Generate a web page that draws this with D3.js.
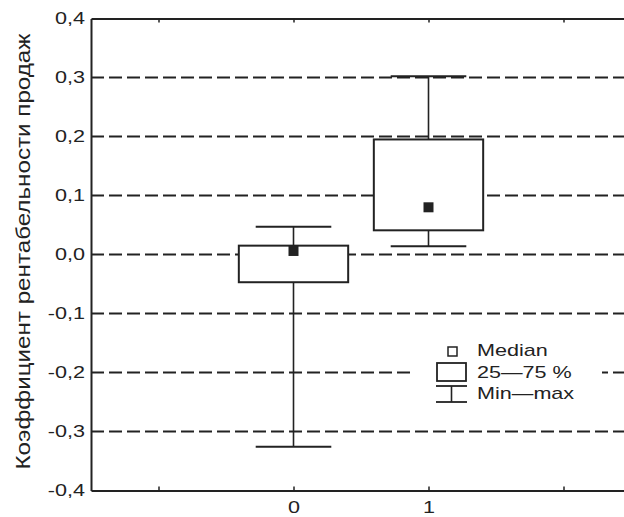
<!DOCTYPE html>
<html>
<head>
<meta charset="utf-8">
<script src="https://cdn.jsdelivr.net/npm/d3@7"></script>
<style>
  body { margin: 0; background: #fff; }
  text { font-family: "Liberation Sans", Arial, sans-serif; fill: #222; }
</style>
</head>
<body>
<svg id="chart" width="624" height="517"></svg>
<script>
// box plot data
const categories = [0, 1];
const medians = [0.006, 0.080];
const q1 = [-0.047, 0.041];
const q3 = [0.015, 0.195];
const mins = [-0.326, 0.014];
const maxs = [0.047, 0.302];

const yTicks = [-0.4, -0.3, -0.2, -0.1, 0, 0.1, 0.2, 0.3, 0.4];
const gridLines = [-0.3, -0.2, -0.1, 0, 0.1, 0.2, 0.3];
const xTicks = [-1, 0, 1, 2];
const xLabels = ["0", "1"];

const legendItems = ["Median", "25\u201475 %", "Min\u2014max"];
const yTitle = "Коэффициент рентабельности продаж";

const ink = "#222";
const svg = d3.select("#chart");

let x = d3.scaleLinear().domain([-1.5, 2.5]).range([91, 631]);
let y = d3.scaleLinear().domain([-0.4, 0.4]).range([490.5, 18.5]);

const fmt = v => d3.format(".1f")(v).replace("\u2212", "-").replace(".", ",");

// the original lettering is wider than it is tall, so stretch it sideways
function widen(sel, k) {
    sel.each(function() {
        let w = this.getComputedTextLength();
        if (w > 0) d3.select(this).attr("textLength", w * k).attr("lengthAdjust", "spacingAndGlyphs");
    });
}

// dashed grid
svg.append("g").selectAll("line").data(gridLines).join("line")
    .attr("x1", x(-1.5)).attr("x2", x(2.5))
    .attr("y1", d => y(d)).attr("y2", d => y(d))
    .attr("stroke", ink).attr("stroke-width", 2)
    .attr("stroke-dasharray", "13,5");

// legend background hides the grid under it
svg.append("rect")
    .attr("x", 414).attr("y", 336).attr("width", 188).attr("height", 70)
    .attr("fill", "#fff");

let boxW = 0.81, capW = 0.56;
let boxes = svg.append("g").selectAll("g").data(categories).join("g");

// whiskers
boxes.append("line")
    .attr("x1", d => x(d)).attr("x2", d => x(d))
    .attr("y1", (d, i) => y(mins[i])).attr("y2", (d, i) => y(maxs[i]))
    .attr("stroke", ink).attr("stroke-width", 1.6);
boxes.append("line")
    .attr("x1", d => x(d - capW / 2)).attr("x2", d => x(d + capW / 2))
    .attr("y1", (d, i) => y(maxs[i])).attr("y2", (d, i) => y(maxs[i]))
    .attr("stroke", ink).attr("stroke-width", 2);
boxes.append("line")
    .attr("x1", d => x(d - capW / 2)).attr("x2", d => x(d + capW / 2))
    .attr("y1", (d, i) => y(mins[i])).attr("y2", (d, i) => y(mins[i]))
    .attr("stroke", ink).attr("stroke-width", 2);

// 25-75 box
boxes.append("rect")
    .attr("x", d => x(d - boxW / 2))
    .attr("width", x(boxW) - x(0))
    .attr("y", (d, i) => y(q3[i]))
    .attr("height", (d, i) => y(q1[i]) - y(q3[i]))
    .attr("fill", "#fff").attr("stroke", ink).attr("stroke-width", 2);

// median marker
boxes.append("rect")
    .attr("x", d => x(d) - 5).attr("y", (d, i) => y(medians[i]) - 5)
    .attr("width", 10).attr("height", 10)
    .attr("fill", ink);

// y axis
let yAxis = svg.append("g")
    .attr("transform", "translate(" + x(-1.5) + ",0)")
    .call(d3.axisLeft(y).tickValues(yTicks).tickFormat(fmt).tickSize(0).tickPadding(6));
yAxis.select(".domain").attr("stroke", ink).attr("stroke-width", 2);
yAxis.selectAll("text").style("font-size", "17px").attr("fill", ink).call(widen, 1.27);

// bottom and top frame lines with inward ticks
let xAxis = svg.append("g")
    .attr("transform", "translate(0," + y(-0.4) + ")")
    .call(d3.axisBottom(x).tickValues(xTicks).tickSizeInner(-4).tickSizeOuter(0).tickPadding(10)
        .tickFormat(d => (d === 0 || d === 1) ? xLabels[d] : ""));
xAxis.select(".domain").attr("stroke", ink).attr("stroke-width", 2);
xAxis.selectAll(".tick line").attr("stroke", ink).attr("stroke-width", 1.5);
xAxis.selectAll("text").style("font-size", "17px").attr("fill", ink).call(widen, 1.27);

let xTop = svg.append("g")
    .attr("transform", "translate(0," + y(0.4) + ")")
    .call(d3.axisTop(x).tickValues(xTicks).tickSizeInner(-4).tickSizeOuter(0).tickFormat(""));
xTop.select(".domain").attr("stroke", ink).attr("stroke-width", 2);
xTop.selectAll(".tick line").attr("stroke", ink).attr("stroke-width", 1.5);

// y title
svg.append("text")
    .attr("transform", "translate(30," + (y(0) - 3) + ") rotate(-90)")
    .attr("text-anchor", "middle")
    .style("font-size", "20px")
    .attr("textLength", 436)
    .attr("lengthAdjust", "spacingAndGlyphs")
    .text(yTitle);

// legend
let lg = svg.append("g");
lg.append("rect").attr("x", 448).attr("y", 347).attr("width", 9).attr("height", 9)
    .attr("fill", "#fff").attr("stroke", ink).attr("stroke-width", 1.5);
lg.append("rect").attr("x", 437).attr("y", 363).attr("width", 29).attr("height", 18)
    .attr("fill", "#fff").attr("stroke", ink).attr("stroke-width", 1.8);
lg.append("line").attr("x1", 436).attr("x2", 467).attr("y1", 386).attr("y2", 386)
    .attr("stroke", ink).attr("stroke-width", 1.8);
lg.append("line").attr("x1", 436).attr("x2", 467).attr("y1", 402).attr("y2", 402)
    .attr("stroke", ink).attr("stroke-width", 1.8);
lg.append("line").attr("x1", 451.5).attr("x2", 451.5).attr("y1", 386).attr("y2", 402)
    .attr("stroke", ink).attr("stroke-width", 1.6);
lg.selectAll("text").data(legendItems).join("text")
    .attr("x", 477).attr("y", (d, i) => 356 + i * 21.5)
    .style("font-size", "17px")
    .text(d => d)
    .call(widen, 1.27);
</script>
</body>
</html>
